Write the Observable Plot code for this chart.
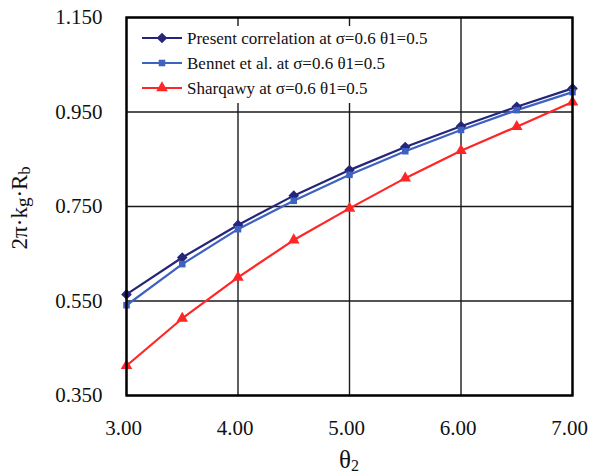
<!DOCTYPE html>
<html><head><meta charset="utf-8">
<script src="https://cdn.jsdelivr.net/npm/d3@7"></script>
<script src="https://cdn.jsdelivr.net/npm/@observablehq/plot@0.6"></script>
<style>
body{margin:0;background:#fff}
#chart svg{font-family:"Liberation Serif","Times New Roman",serif;background:#fff}
</style>
</head><body><div id="chart"></div>
<script>
const theta2 = [3, 3.5, 4, 4.5, 5, 5.5, 6, 6.5, 7];
const present = [0.564, 0.642, 0.711, 0.773, 0.827, 0.876, 0.920, 0.961, 1.000];
const bennet = [0.541, 0.628, 0.702, 0.762, 0.817, 0.867, 0.912, 0.954, 0.992];
const sharqawy = [0.413, 0.513, 0.600, 0.679, 0.746, 0.810, 0.868, 0.919, 0.971];
const seriesNames = ["Present correlation at σ=0.6 θ1=0.5", "Bennet et al. at σ=0.6 θ1=0.5", "Sharqawy at σ=0.6 θ1=0.5"];
const seriesValues = [present, bennet, sharqawy];
const colors = ["#25267a", "#3d62c2", "#ff2626"];
const symbols = ["diamond2", "square", "triangle"];
const symbolR = [4.8, 3.7, 4.3];
const xTicks = [3, 4, 5, 6, 7];
const yTicks = [0.35, 0.55, 0.75, 0.95, 1.15];

const rows = [];
seriesNames.forEach((name, i) => {
  theta2.forEach((t, j) => rows.push({series: name, idx: i, x: t, y: seriesValues[i][j]}));
});

const FONT = '"Liberation Serif","Times New Roman",serif';
const W = 589, H = 475;
const plot = Plot.plot({
  width: W, height: H,
  marginLeft: 126, marginRight: 17, marginTop: 17, marginBottom: 80,
  x: {domain: [3, 7]},
  y: {domain: [0.35, 1.15]},
  style: {fontFamily: FONT, color: "#111"},
  marks: [
    Plot.gridX(xTicks, {stroke: "#1a1a1a", strokeOpacity: 1, strokeWidth: 1.4}),
    Plot.gridY(yTicks, {stroke: "#1a1a1a", strokeOpacity: 1, strokeWidth: 1.4}),
    ...seriesNames.map((name, i) =>
      Plot.line(rows.filter(r => r.idx === i), {x: "x", y: "y", stroke: colors[i], strokeWidth: 2.2})),
    ...seriesNames.map((name, i) =>
      Plot.dot(rows.filter(r => r.idx === i), {x: "x", y: "y", fill: colors[i], stroke: "none", symbol: () => symbols[i], r: symbolR[i]})),
    Plot.frame({stroke: "#000", strokeWidth: 2.4}),
    Plot.axisX(xTicks, {tickFormat: d3.format(".2f"), tickSize: 0, tickPadding: 25, dx: -3, fontSize: 21, fontFamily: FONT, label: null}),
    Plot.axisY(yTicks, {tickFormat: d3.format(".3f"), tickSize: 0, tickPadding: 24, fontSize: 21, fontFamily: FONT, label: null})
  ]
});

document.getElementById("chart").append(plot);
const svg = d3.select(plot);
const mL = 126, mR = 17, mT = 17, mB = 80;

// Legend box (covers gridlines, leaves the top inner ticks visible)
const lg = svg.append("g").attr("text-anchor", "start").attr("font-family", FONT);
lg.append("rect").attr("x", mL + 2).attr("y", 26).attr("width", 312).attr("height", 77).attr("fill", "#fff");
seriesNames.forEach((name, i) => {
  const cy = 38 + i * 25;
  lg.append("line").attr("x1", 142).attr("x2", 182).attr("y1", cy).attr("y2", cy)
    .attr("stroke", colors[i]).attr("stroke-width", 2.2);
  const symType = i === 0 ? d3.symbolDiamond2 : i === 1 ? d3.symbolSquare : d3.symbolTriangle;
  const area = Math.PI * symbolR[i] * symbolR[i];
  lg.append("path").attr("d", d3.symbol(symType, area)()).attr("transform", `translate(162,${cy})`).attr("fill", colors[i]);
  lg.append("text").attr("x", 187).attr("y", cy).attr("dy", "0.35em").attr("text-anchor", "start")
    .attr("font-size", 17).attr("fill", "#111").text(name);
});

// X axis title θ2
const xt = svg.append("text").attr("x", (mL + W - mR) / 2).attr("y", 468).attr("font-family", FONT)
  .attr("text-anchor", "middle").attr("font-size", 25).attr("fill", "#111");
xt.append("tspan").text("θ");
xt.append("tspan").attr("font-size", 16).attr("dy", 3).text("2");

// Y axis title 2π·kg·Rb
const yt = svg.append("text").attr("transform", `translate(27,208) rotate(-90)`).attr("font-family", FONT)
  .attr("text-anchor", "middle").attr("font-size", 23).attr("fill", "#111");
yt.append("tspan").text("2π·k");
yt.append("tspan").attr("font-size", 19).attr("dy", 2).text("g");
yt.append("tspan").attr("dy", -2).text("·R");
yt.append("tspan").attr("font-size", 16).attr("dy", 3).text("b");
</script>
</body></html>
